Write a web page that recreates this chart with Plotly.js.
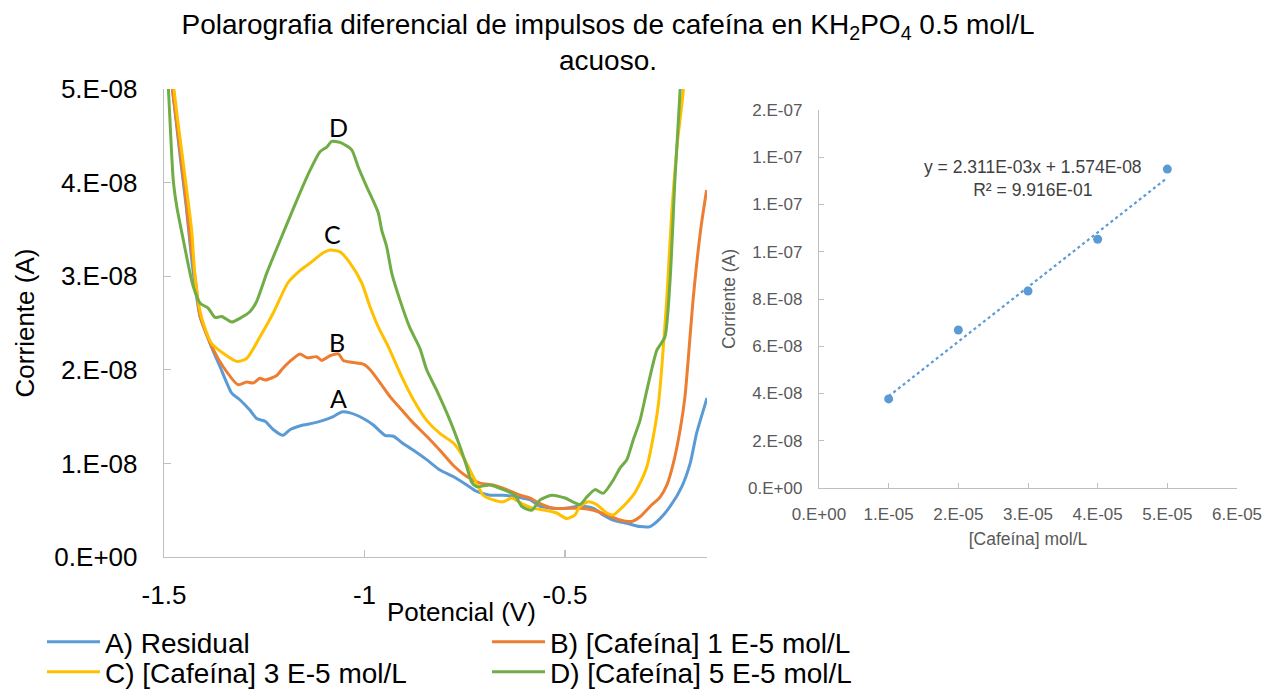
<!DOCTYPE html>
<html>
<head>
<meta charset="utf-8">
<script src="https://cdn.plot.ly/plotly-3.0.1.min.js"></script>
<style>
  html, body { margin: 0; padding: 0; background: #ffffff; }
  #chart { width: 1268px; height: 692px; }
</style>
</head>
<body>
<div id="chart"></div>
<script>
// Differential pulse polarograms (potential in V, current in nA)
const residualV = [-1.500, -1.479, -1.460, -1.445, -1.428, -1.410, -1.385, -1.360, -1.331, -1.311, -1.286, -1.269, -1.248, -1.227, -1.203, -1.186, -1.153, -1.128, -1.103, -1.078, -1.057, -1.036, -1.003, -0.978, -0.949, -0.928, -0.903, -0.878, -0.845, -0.812, -0.779, -0.745, -0.720, -0.687, -0.654, -0.620, -0.587, -0.562, -0.529, -0.496, -0.463, -0.429, -0.405, -0.380, -0.346, -0.313, -0.288, -0.263, -0.238, -0.209, -0.188, -0.172, -0.155, -0.146];
const residualNA = [56.8, 50.0, 42.9, 37.6, 30.7, 25.7, 22.8, 20.3, 17.5, 16.8, 15.7, 14.8, 14.5, 13.6, 13.0, 13.6, 14.1, 14.3, 14.6, 15.0, 15.5, 15.4, 14.8, 14.1, 13.0, 12.9, 12.1, 11.4, 10.4, 9.3, 8.6, 7.7, 7.0, 6.6, 6.6, 6.4, 6.1, 5.4, 5.2, 5.2, 5.45, 5.2, 4.5, 3.95, 3.6, 3.25, 3.25, 4.1, 5.4, 7.5, 10.0, 13.2, 15.7, 17.0];

const caf1V = [-1.500, -1.479, -1.460, -1.445, -1.433, -1.420, -1.410, -1.381, -1.352, -1.315, -1.294, -1.277, -1.261, -1.248, -1.219, -1.203, -1.186, -1.161, -1.144, -1.119, -1.107, -1.086, -1.065, -1.053, -1.032, -1.003, -0.986, -0.961, -0.936, -0.907, -0.878, -0.845, -0.812, -0.779, -0.745, -0.712, -0.679, -0.645, -0.612, -0.587, -0.562, -0.529, -0.496, -0.463, -0.429, -0.396, -0.363, -0.334, -0.313, -0.288, -0.263, -0.246, -0.230, -0.213, -0.201, -0.180, -0.162, -0.147];
const caf1NA = [56.2, 50.0, 43.5, 38.1, 33.3, 29.1, 25.7, 22.5, 20.3, 18.4, 18.7, 18.6, 19.1, 18.9, 19.4, 20.2, 20.9, 21.7, 21.3, 21.4, 21.0, 21.5, 21.7, 21.0, 20.8, 20.6, 20.0, 18.6, 17.1, 15.7, 14.3, 12.9, 11.4, 9.8, 8.6, 7.9, 7.7, 7.2, 6.6, 6.3, 5.7, 5.2, 5.2, 5.2, 5.0, 4.5, 3.95, 3.8, 4.3, 5.4, 6.4, 7.7, 10.0, 13.6, 17.1, 27.8, 34.9, 39.2];

const caf3V = [-1.500, -1.468, -1.452, -1.431, -1.423, -1.413, -1.403, -1.381, -1.319, -1.294, -1.261, -1.226, -1.191, -1.161, -1.136, -1.103, -1.086, -1.061, -1.036, -1.007, -0.986, -0.966, -0.941, -0.912, -0.878, -0.845, -0.812, -0.779, -0.754, -0.729, -0.704, -0.679, -0.654, -0.633, -0.608, -0.579, -0.550, -0.521, -0.496, -0.475, -0.463, -0.442, -0.421, -0.396, -0.380, -0.355, -0.330, -0.313, -0.296, -0.280, -0.267, -0.246, -0.234, -0.221, -0.205, -0.201];
const caf3NA = [58.9, 47.4, 42.1, 34.9, 30.1, 26.9, 25.1, 22.8, 20.9, 21.2, 23.5, 26.2, 29.3, 30.6, 31.4, 32.5, 32.8, 32.6, 31.4, 29.3, 26.7, 24.6, 22.5, 19.7, 16.8, 14.6, 13.2, 12.2, 10.7, 8.6, 6.6, 6.1, 5.9, 6.3, 5.7, 5.2, 5.0, 4.7, 4.1, 4.5, 5.4, 5.9, 5.6, 4.7, 4.5, 5.4, 6.6, 7.9, 9.65, 12.85, 16.4, 27.8, 36.8, 43.8, 49.9, 54.2];

const caf5V = [-1.500, -1.489, -1.477, -1.468, -1.452, -1.435, -1.427, -1.410, -1.390, -1.373, -1.356, -1.331, -1.311, -1.286, -1.269, -1.244, -1.203, -1.161, -1.136, -1.111, -1.094, -1.082, -1.061, -1.032, -1.016, -0.995, -0.966, -0.957, -0.945, -0.932, -0.912, -0.887, -0.862, -0.845, -0.820, -0.787, -0.762, -0.745, -0.733, -0.720, -0.687, -0.654, -0.625, -0.608, -0.583, -0.562, -0.533, -0.500, -0.463, -0.446, -0.425, -0.405, -0.380, -0.363, -0.346, -0.330, -0.313, -0.296, -0.271, -0.251, -0.238, -0.226, -0.213, -0.208];
const caf5NA = [58.0, 50.0, 40.3, 37.4, 33.9, 30.3, 28.9, 27.1, 26.6, 25.6, 25.7, 25.1, 25.5, 26.2, 27.3, 30.3, 34.6, 38.9, 41.3, 43.3, 43.8, 44.4, 44.3, 43.5, 41.7, 39.6, 36.8, 34.9, 33.2, 30.3, 27.5, 24.5, 22.3, 20.0, 17.8, 14.6, 11.8, 9.65, 8.0, 7.5, 7.7, 7.2, 6.6, 5.4, 5.0, 6.1, 6.6, 6.3, 5.6, 6.4, 7.2, 6.8, 8.2, 9.5, 10.4, 12.5, 14.6, 17.8, 22.1, 23.5, 29.6, 40.3, 49.9, 55.2];

const seriesNames = ['A) Residual', 'B) [Cafeína] 1 E-5 mol/L', 'C) [Cafeína] 3 E-5 mol/L', 'D) [Cafeína] 5 E-5 mol/L'];
const peakLetters = ['A', 'B', 'C', 'D'];
const peakLetterV = [-1.066, -1.069, -1.081, -1.066];
const peakLetterNA = [17.0, 23.0, 34.5, 45.9];

// Main axis ticks
const potentialTicks = [-1.5, -1, -0.5];
const potentialTickText = ['-1.5', '-1', '-0.5'];
const currentTicks = [0, 1e-8, 2e-8, 3e-8, 4e-8, 5e-8];
const currentTickText = ['0.E+00', '1.E-08', '2.E-08', '3.E-08', '4.E-08', '5.E-08'];

// Calibration: peak current vs caffeine concentration
const concentrations = [1e-5, 2e-5, 3e-5, 4e-5, 5e-5];
const peakCurrentNA = [37.7, 66.9, 83.4, 105.3, 135.0];
const fitSlope = 2.311e-3;
const fitIntercept = 1.574e-8;
const fitText = 'y = 2.311E-03x + 1.574E-08<br>R² = 9.916E-01';
const concTicks = [0, 1e-5, 2e-5, 3e-5, 4e-5, 5e-5, 6e-5];
const concTickText = ['0.E+00', '1.E-05', '2.E-05', '3.E-05', '4.E-05', '5.E-05', '6.E-05'];
const calTicks = [0, 2e-8, 4e-8, 6e-8, 8e-8, 1e-7, 1.2e-7, 1.4e-7, 1.6e-7];
const calTickText = ['0.E+00', '2.E-08', '4.E-08', '6.E-08', '8.E-08', '1.E-07', '1.E-07', '1.E-07', '2.E-07'];

const nA = v => v * 1e-9;
const W = 1268, H = 692;
const px = v => v / W;
const py = v => 1 - v / H;

const FONT = 'Liberation Sans, Arial, sans-serif';
const colors = ['#5B9BD5', '#ED7D31', '#FFC000', '#70AD47'];
const potentials = [residualV, caf1V, caf3V, caf5V];
const currents = [residualNA, caf1NA, caf3NA, caf5NA];
const legendIds = ['legend', 'legend2', 'legend3', 'legend4'];

const traces = potentials.map((xs, i) => ({
  type: 'scatter',
  mode: 'lines',
  name: seriesNames[i],
  x: xs,
  y: currents[i].map(nA),
  xaxis: 'x',
  yaxis: 'y',
  legend: legendIds[i],
  line: { color: colors[i], width: 3, shape: 'spline', smoothing: 0.6 },
  hoverinfo: 'x+y+name'
}));

const fitX = [concentrations[0], concentrations[concentrations.length - 1]];
traces.push({
  type: 'scatter',
  mode: 'lines',
  x: fitX,
  y: fitX.map(c => fitSlope * c + fitIntercept),
  xaxis: 'x2',
  yaxis: 'y2',
  showlegend: false,
  line: { color: '#5B9BD5', width: 2.2, dash: 'dot' }
});
traces.push({
  type: 'scatter',
  mode: 'markers',
  x: concentrations,
  y: peakCurrentNA.map(nA),
  xaxis: 'x2',
  yaxis: 'y2',
  showlegend: false,
  marker: { color: '#5B9BD5', size: 9 }
});

const axisLine = '#BFBFBF';

function legendAt(x, y) {
  return {
    x: px(x), y: py(y), xanchor: 'left', yanchor: 'middle',
    orientation: 'v', itemwidth: 53,
    bgcolor: 'rgba(0,0,0,0)', borderwidth: 0,
    font: { family: FONT, size: 28, color: '#000000' }
  };
}

const annotations = peakLetters.map((t, i) => ({
  xref: 'x', yref: 'y',
  x: peakLetterV[i], y: nA(peakLetterNA[i]),
  text: t, showarrow: false,
  font: { family: 'Lato, Open Sans, sans-serif', size: 25, color: '#000000' }
}));
annotations.push({
  xref: 'paper', yref: 'paper',
  x: px(1033), y: py(178),
  xanchor: 'center', yanchor: 'middle',
  text: fitText, showarrow: false,
  font: { family: FONT, size: 17.5, color: '#404040' }
});
// Potential axis caption, set just under the tick labels
annotations.push({
  xref: 'paper', yref: 'paper',
  x: px(461), y: py(612),
  xanchor: 'center', yanchor: 'middle',
  text: 'Potencial (V)', showarrow: false,
  font: { family: FONT, size: 26, color: '#000000' }
});

const layout = {
  width: W,
  height: H,
  margin: { l: 0, r: 0, t: 0, b: 0, autoexpand: false },
  paper_bgcolor: '#ffffff',
  plot_bgcolor: 'rgba(0,0,0,0)',
  showlegend: true,
  title: {
    text: 'Polarografia diferencial de impulsos de cafeína en KH<sub>2</sub>PO<sub>4</sub> 0.5 mol/L<br>acuoso.',
    font: { family: FONT, size: 28, color: '#000000' },
    xref: 'paper', x: px(608), xanchor: 'center',
    yref: 'container', y: py(34), yanchor: 'top'
  },
  xaxis: {
    domain: [px(164), px(707)],
    range: [-1.5, -0.146],
    anchor: 'y',
    tickmode: 'array', tickvals: potentialTicks, ticktext: potentialTickText,
    ticks: 'inside', ticklen: 7, tickcolor: axisLine, tickwidth: 1.3,
    showline: true, linecolor: axisLine, linewidth: 1.3,
    showgrid: false, zeroline: false,
    ticklabelstandoff: 14,
    tickfont: { family: FONT, size: 26, color: '#000000' }
  },
  yaxis: {
    domain: [py(557), py(89)],
    range: [0, 5e-8],
    anchor: 'x',
    tickmode: 'array', tickvals: currentTicks, ticktext: currentTickText,
    ticks: 'inside', ticklen: 7, tickcolor: axisLine, tickwidth: 1.3,
    showline: true, linecolor: axisLine, linewidth: 1.3,
    showgrid: false, zeroline: false,
    ticklabelstandoff: 20,
    tickfont: { family: FONT, size: 26, color: '#000000' },
    title: { text: 'Corriente (A)', font: { family: FONT, size: 26, color: '#000000' }, standoff: 12 }
  },
  xaxis2: {
    domain: [px(819), px(1237)],
    range: [0, 6e-5],
    anchor: 'y2',
    tickmode: 'array', tickvals: concTicks, ticktext: concTickText,
    ticks: 'inside', ticklen: 5, tickcolor: axisLine, tickwidth: 1,
    showline: true, linecolor: axisLine, linewidth: 1.2,
    showgrid: false, zeroline: false,
    ticklabelstandoff: 10,
    tickfont: { family: FONT, size: 17, color: '#595959' },
    title: { text: '[Cafeína] mol/L', font: { family: FONT, size: 17.5, color: '#595959' }, standoff: 10 }
  },
  yaxis2: {
    domain: [py(488), py(110)],
    range: [0, 1.6e-7],
    anchor: 'x2',
    tickmode: 'array', tickvals: calTicks, ticktext: calTickText,
    ticks: 'inside', ticklen: 5, tickcolor: axisLine, tickwidth: 1,
    showline: true, linecolor: axisLine, linewidth: 1.2,
    showgrid: false, zeroline: false,
    ticklabelstandoff: 12,
    tickfont: { family: FONT, size: 17, color: '#595959' },
    title: { text: 'Corriente (A)', font: { family: FONT, size: 17.5, color: '#595959' }, standoff: 8 }
  },
  legend: legendAt(42, 642),
  legend2: legendAt(487, 642),
  legend3: legendAt(42, 672),
  legend4: legendAt(487, 672),
  annotations: annotations
};

Plotly.newPlot('chart', traces, layout, { displayModeBar: false, staticPlot: true });
</script>
</body>
</html>
